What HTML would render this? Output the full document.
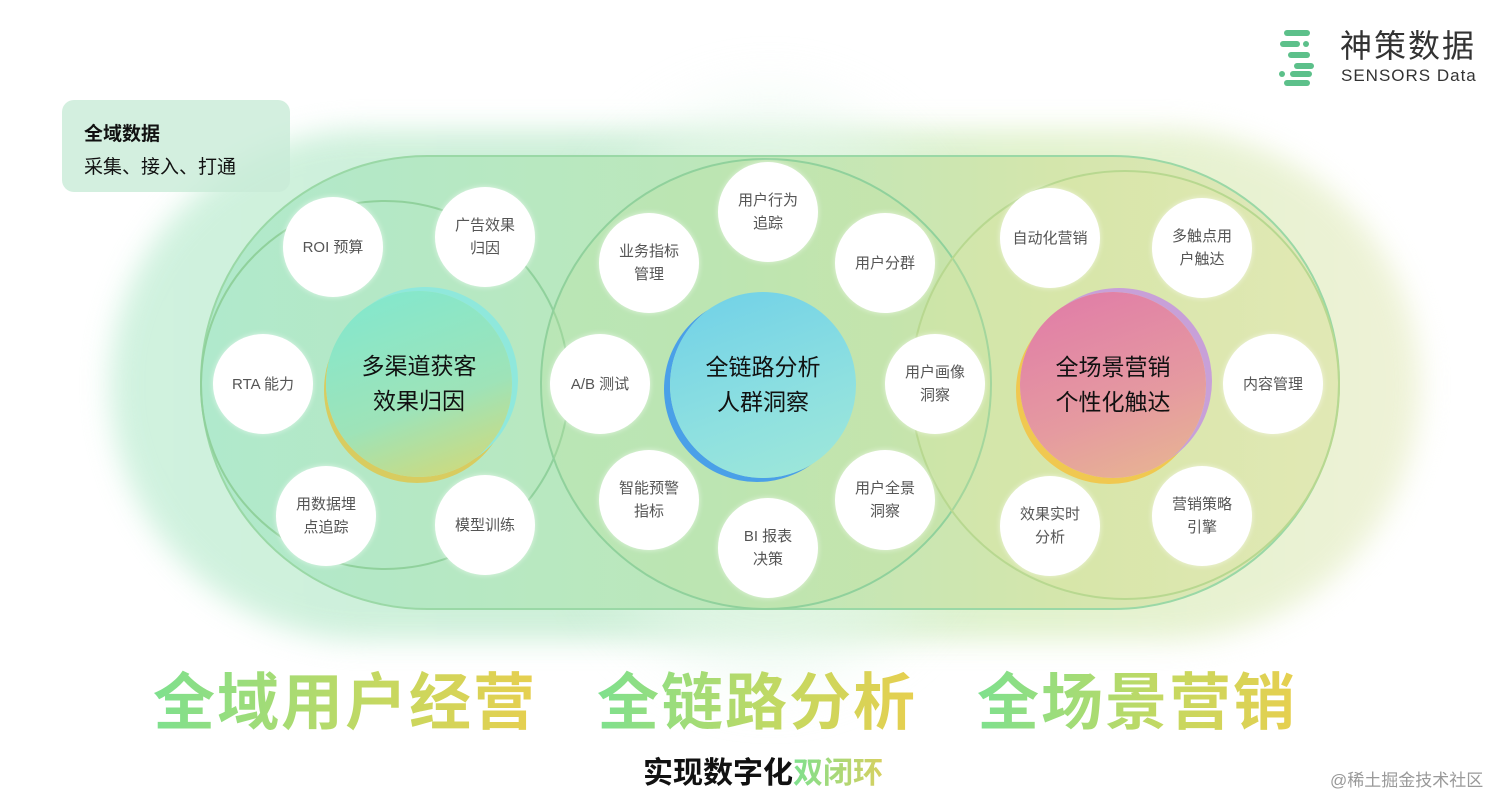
<!DOCTYPE html>
<html><head><meta charset="utf-8"><style>
*{margin:0;padding:0;box-sizing:border-box}
body{width:1512px;height:811px;background:#fff;position:relative;overflow:hidden;font-family:"Liberation Sans","Noto Sans CJK SC",sans-serif}
.a{position:absolute}
.sc{position:absolute;width:100px;height:100px;border-radius:50%;background:#fff;display:flex;align-items:center;justify-content:center;text-align:center;font-size:15px;color:#555;line-height:23px;box-shadow:0 0 6px rgba(255,255,255,.6)}
.big{position:absolute;width:186px;height:186px;border-radius:50%;display:flex;align-items:center;justify-content:center;text-align:center;font-size:23px;color:#111;line-height:35px}
.t{position:absolute;font-size:62px;font-weight:bold;background:linear-gradient(90deg,#7ee08e,#c6d860 60%,#e7cf4f);-webkit-background-clip:text;background-clip:text;color:transparent;letter-spacing:2px;white-space:nowrap}
</style></head><body>
<div class="a" style="left:110px;top:130px;width:1310px;height:510px;border-radius:255px;background:linear-gradient(90deg,#c8f0da,#c4ecd0 40%,#dcf0c4 70%,#ecf0d0);filter:blur(14px);opacity:.85"></div>
<div class="a" style="left:560px;top:100px;width:420px;height:580px;border-radius:50%;background:#e6f8ec;filter:blur(30px);opacity:.6"></div>
<div class="a" style="left:200px;top:155px;width:1140px;height:455px;border-radius:228px;background:linear-gradient(90deg,#b0e9cc,#bce7ba 45%,#d4e6ac 75%,#e2e8bc);border:2px solid #9ad8a6"></div>
<div class="a" style="left:200px;top:200px;width:370px;height:370px;border-radius:50%;border:2px solid #90d19c"></div>
<div class="a" style="left:540px;top:158px;width:452px;height:452px;border-radius:50%;border:2px solid #90d19c;background:rgba(190,225,160,.3)"></div>
<div class="a" style="left:910px;top:170px;width:430px;height:430px;border-radius:50%;border:2px solid #b8d890;background:rgba(225,230,160,.25)"></div>
<div class="a" style="left:62px;top:100px;width:228px;height:92px;border-radius:12px;background:rgba(200,235,215,.8);padding:18px 22px;font-size:19px;line-height:33px;color:#111"><b>全域数据</b><br>采集、接入、打通</div>
<svg class="a" style="left:1278px;top:28px" width="60" height="60">
<g fill="#5cc08a"><rect x="6" y="2" width="26" height="6" rx="3"/><rect x="2" y="13" width="20" height="6" rx="3"/><circle cx="28" cy="16" r="3"/><rect x="10" y="24" width="22" height="6" rx="3"/><rect x="16" y="35" width="20" height="6" rx="3"/><circle cx="4" cy="46" r="3"/><rect x="12" y="43" width="22" height="6" rx="3"/><rect x="6" y="52" width="26" height="6" rx="3"/></g></svg>
<div class="a" style="left:1340px;top:28px;font-size:32px;color:#333;letter-spacing:2px;line-height:36px">神策数据</div>
<div class="a" style="left:1341px;top:66px;font-size:17px;color:#333;letter-spacing:1px">SENSORS Data</div>
<div class="sc" style="left:283px;top:197px">ROI 预算</div>
<div class="sc" style="left:435px;top:187px">广告效果<br>归因</div>
<div class="sc" style="left:213px;top:334px">RTA 能力</div>
<div class="sc" style="left:276px;top:466px">用数据埋<br>点追踪</div>
<div class="sc" style="left:435px;top:475px">模型训练</div>
<div class="big" style="left:326px;top:291px;background:linear-gradient(160deg,#80e8d0,#9ee3b8 60%,#d8d870);box-shadow:6px -4px 0 #8fe8dc,-2px 6px 0 #d8cc60">多渠道获客<br>效果归因</div>
<div class="sc" style="left:718px;top:162px">用户行为<br>追踪</div>
<div class="sc" style="left:599px;top:213px">业务指标<br>管理</div>
<div class="sc" style="left:835px;top:213px">用户分群</div>
<div class="sc" style="left:550px;top:334px">A/B 测试</div>
<div class="sc" style="left:885px;top:334px">用户画像<br>洞察</div>
<div class="sc" style="left:599px;top:450px">智能预警<br>指标</div>
<div class="sc" style="left:835px;top:450px">用户全景<br>洞察</div>
<div class="sc" style="left:718px;top:498px">BI 报表<br>决策</div>
<div class="big" style="left:670px;top:292px;background:linear-gradient(160deg,#6fd0e8,#8ee0e0 60%,#a0e8d8);box-shadow:-6px 4px 0 #4aa0e8">全链路分析<br>人群洞察</div>
<div class="sc" style="left:1000px;top:188px">自动化营销</div>
<div class="sc" style="left:1152px;top:198px">多触点用<br>户触达</div>
<div class="sc" style="left:1223px;top:334px">内容管理</div>
<div class="sc" style="left:1000px;top:476px">效果实时<br>分析</div>
<div class="sc" style="left:1152px;top:466px">营销策略<br>引擎</div>
<div class="big" style="left:1020px;top:292px;background:linear-gradient(160deg,#e07aa8,#e59aa0 60%,#e8b890);box-shadow:6px -4px 0 #c8a0d8,-4px 6px 0 #f0c850">全场景营销<br>个性化触达</div>
<div class="t" style="left:153px;top:652px">全域用户经营</div>
<div class="t" style="left:597px;top:652px">全链路分析</div>
<div class="t" style="left:977px;top:652px">全场景营销</div>
<div class="a" style="left:643px;top:748px;font-size:30px;font-weight:bold;color:#111;white-space:nowrap">实现数字化<span style="background:linear-gradient(90deg,#7ee08e,#d8d060);-webkit-background-clip:text;background-clip:text;color:transparent">双闭环</span></div>
<div class="a" style="left:1330px;top:766px;font-size:17px;color:#999">@稀土掘金技术社区</div>
</body></html>
